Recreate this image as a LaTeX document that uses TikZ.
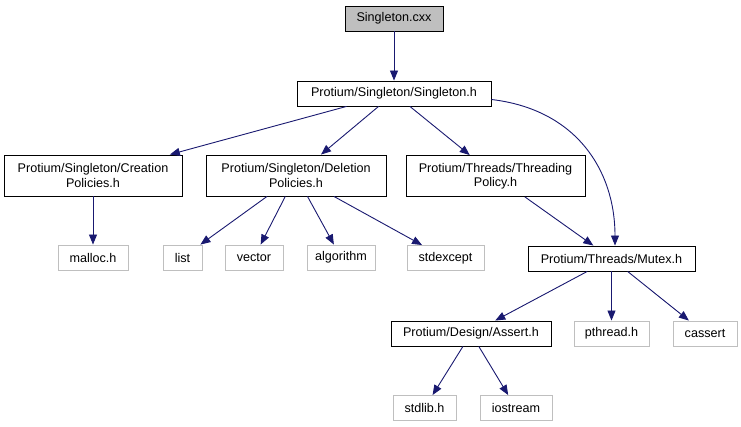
\documentclass[tikz,border=0pt]{standalone}
\usepackage{fontspec}
\setmainfont{Liberation Sans}
\usepackage{tikz}
\usetikzlibrary{arrows.meta,positioning}
\definecolor{EdgeBlue}{HTML}{191970}
\definecolor{LeafGrey}{HTML}{BFBFBF}
\definecolor{RootGrey}{HTML}{BFBFBF}
\tikzset{
    % Base node style
    basenode/.style={
        draw=black,
        fill=white,
        line width=0.9pt,
        inner sep=0pt,
        minimum height=25pt,
        align=center,
        font=\fontsize{12.6}{14.5}\selectfont
    },
    % Root file
    rootnode/.style={
        basenode,
        fill=RootGrey
    },
    % Project header style
    headernode/.style={
        basenode
    },
    % Two-line header
    tallnode/.style={
        basenode,
        minimum height=41pt
    },
    % System header style
    sysnode/.style={
        basenode,
        draw=LeafGrey
    },
    % Include arrow
    myarrow/.style={
        -{Triangle[length=10pt,width=8pt]},
        line width=0.9pt,
        draw=EdgeBlue
    }
}
\begin{document}
\begin{tikzpicture}[x=1pt,y=-1pt]
    \useasboundingbox (0,0) rectangle (741,427);
    \node[rootnode, minimum width=98pt] (cxx) at (394,18.5) {Singleton.cxx};
    \node[headernode, minimum width=194pt] (singh) at (394,93.5) {Protium/Singleton/Singleton.h};

    \node[tallnode, minimum width=178pt] (creation) at (93,175.5) {Protium/Singleton/Creation\\Policies.h};
    \node[tallnode, minimum width=180pt] (deletion) at (296,175.5) {Protium/Singleton/Deletion\\Policies.h};
    \node[tallnode, minimum width=179pt] (threading) at (495.5,176) {Protium/Threads/Threading\\Policy.h};

    \node[sysnode, minimum width=70pt] (malloc) at (93,257.5) {malloc.h};
    \node[sysnode, minimum width=39pt] (list) at (182.5,257.5) {list};
    \node[sysnode, minimum width=58pt] (vector) at (254,257.5) {vector};
    \node[sysnode, minimum width=68pt] (algorithm) at (341,257.5) {algorithm};
    \node[sysnode, minimum width=77pt] (stdexcept) at (445.5,258) {stdexcept};
    \node[headernode, minimum width=167pt] (mutex) at (611.5,258.5) {Protium/Threads/Mutex.h};

    \node[headernode, minimum width=160pt] (assert) at (471,333.5) {Protium/Design/Assert.h};
    \node[sysnode, minimum width=75pt] (pthread) at (611.5,333.5) {pthread.h};
    \node[sysnode, minimum width=64pt] (cassert) at (705,333.5) {cassert};

    \node[sysnode, minimum width=63pt] (stdlib) at (424.5,408) {stdlib.h};
    \node[sysnode, minimum width=72pt] (iostream) at (516,408) {iostream};

    \draw[myarrow] (cxx) -- (singh);
    \draw[myarrow] (singh) -- (creation);
    \draw[myarrow] (singh) -- (deletion);
    \draw[myarrow] (singh) -- (threading);
    \draw[myarrow] ([yshift=-6pt]singh.east) .. controls +(85,10) and +(0,-75) .. ([xshift=3.5pt]mutex.north);

    \draw[myarrow] (creation) -- (malloc);
    \draw[myarrow] (deletion) -- (list);
    \draw[myarrow] (deletion) -- (vector);
    \draw[myarrow] (deletion) -- (algorithm);
    \draw[myarrow] (deletion) -- (stdexcept);
    \draw[myarrow] (threading) -- (mutex);

    \draw[myarrow] (mutex) -- (assert);
    \draw[myarrow] (mutex) -- (pthread);
    \draw[myarrow] (mutex) -- (cassert);

    \draw[myarrow] (assert) -- (stdlib);
    \draw[myarrow] (assert) -- (iostream);
\end{tikzpicture}
\end{document}
